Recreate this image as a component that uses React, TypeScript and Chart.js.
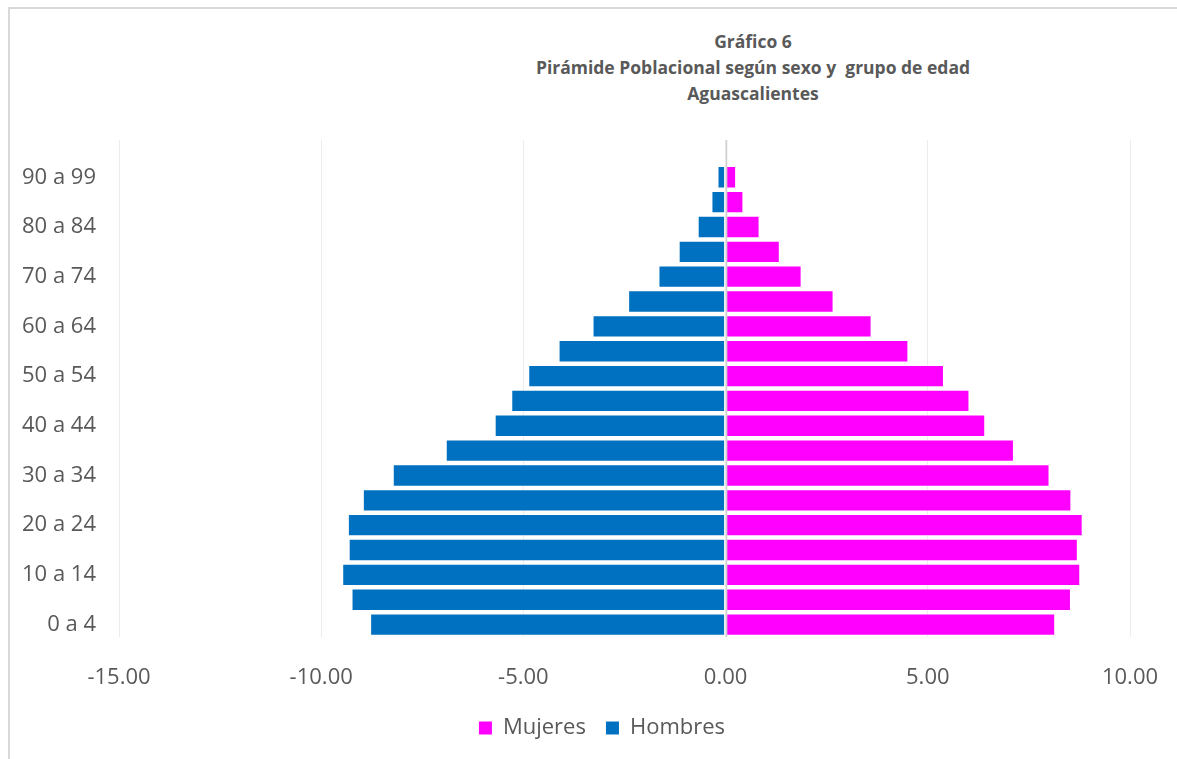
import React, { useEffect, useRef } from "react";
import { Chart, registerables } from "chart.js";

Chart.register(...registerables);

// Age groups, bottom to top; the last slot is an empty row above the oldest group
const ageGroups = [
  "0 a 4", "5 a 9", "10 a 14", "15 a 19", "20 a 24", "25 a 29", "30 a 34",
  "35 a 39", "40 a 44", "45 a 49", "50 a 54", "55 a 59", "60 a 64", "65 a 69",
  "70 a 74", "75 a 79", "80 a 84", "85 a 89", "90 a 99", "",
];

// Percentage of population per age group (men drawn to the left as negatives)
const mujeres = [
  8.15, 8.54, 8.77, 8.71, 8.83, 8.55, 8.01, 7.13, 6.42, 6.03,
  5.4, 4.52, 3.61, 2.67, 1.88, 1.34, 0.84, 0.44, 0.26, null,
];
const hombres = [
  -8.79, -9.25, -9.48, -9.32, -9.34, -8.97, -8.23, -6.92, -5.71, -5.3,
  -4.88, -4.13, -3.29, -2.41, -1.66, -1.16, -0.69, -0.35, -0.2, null,
];

const titleLines = [
  "Gráfico 6",
  "Pirámide Poblacional según sexo y  grupo de edad",
  "Aguascalientes",
];

const xMin = -15;
const xMax = 10;
const xStep = 5;

const TEXT = "#595959";
const FONT = "'Open Sans', 'Liberation Sans', sans-serif";

// Draws the vertical axis line at zero on top of the bars
const zeroLine = {
  id: "zeroLine",
  afterDatasetsDraw(chart: any) {
    const { ctx, chartArea, scales } = chart;
    const x = Math.round(scales.x.getPixelForValue(0)) + 0.5;
    ctx.save();
    ctx.strokeStyle = "#d0d0d0";
    ctx.lineWidth = 1.5;
    ctx.beginPath();
    ctx.moveTo(x, chartArea.top);
    ctx.lineTo(x, chartArea.bottom);
    ctx.stroke();
    ctx.restore();
  },
};

// Moves the legend row a little to the right of the canvas centre
const legendOffset = {
  id: "legendOffset",
  afterLayout(chart: any) {
    const lg = chart.legend;
    if (!lg) return;
    lg.left += 32;
    lg.right += 32;
  },
};

export default function App() {
  const canvasRef = useRef<HTMLCanvasElement>(null);

  useEffect(() => {
    document.body.style.overflow = "hidden";
    const canvas = canvasRef.current;
    if (!canvas) return;
    const defaultLabels = Chart.defaults.plugins.legend.labels.generateLabels;
    const chart = new Chart(canvas, {
      type: "bar",
      data: {
        labels: ageGroups,
        datasets: [
          {
            label: "Mujeres",
            data: mujeres,
            backgroundColor: "#FF00FF",
            borderColor: "rgba(255,255,255,0.45)",
            borderWidth: 1,
            borderSkipped: false,
          },
          {
            label: "Hombres",
            data: hombres,
            backgroundColor: "#0070C0",
            borderColor: "rgba(255,255,255,0.45)",
            borderWidth: 1,
            borderSkipped: false,
          },
        ],
      },
      options: {
        indexAxis: "y",
        responsive: false,
        animation: false,
        datasets: {
          bar: { barPercentage: 0.9, categoryPercentage: 1 },
        },
        layout: { padding: { top: 131, left: 0, right: 47, bottom: 10 } },
        scales: {
          x: {
            stacked: true,
            min: xMin,
            max: xMax,
            border: { display: false },
            grid: {
              color: "#ececec",
              lineWidth: 1,
              drawTicks: true,
              tickLength: 10,
              tickColor: "rgba(0,0,0,0)",
            },
            ticks: {
              stepSize: xStep,
              padding: 18,
              color: TEXT,
              font: { family: FONT, size: 22 },
              callback: (v: any) => Number(v).toFixed(2),
            },
            afterFit: (scale: any) => {
              scale.height = 60;
            },
          },
          y: {
            stacked: true,
            reverse: true,
            border: { display: false },
            grid: { display: false, drawTicks: false },
            ticks: {
              autoSkip: false,
              padding: 23,
              color: TEXT,
              font: { family: FONT, size: 22 },
              callback: function (this: any, value: any, index: number) {
                return index % 2 === 0 ? this.getLabelForValue(value) : "";
              },
            },
            afterFit: (scale: any) => {
              scale.width = 109;
            },
          },
        },
        plugins: {
          title: { display: false },
          tooltip: { enabled: false },
          legend: {
            position: "bottom",
            labels: {
              boxWidth: 13,
              boxHeight: 13,
              padding: 20,
              color: TEXT,
              font: { family: FONT, size: 22 },
              generateLabels: (c: any) =>
                defaultLabels(c).map((l: any) => ({ ...l, lineWidth: 0 })),
            },
          },
        },
      },
      plugins: [zeroLine, legendOffset],
    });
    return () => chart.destroy();
  }, []);

  return (
    <div
      style={{
        position: "absolute",
        left: 8,
        top: 7,
        width: 1169,
        height: 752,
        borderTop: "2px solid #d9d9d9",
        borderLeft: "2px solid #d9d9d9",
        boxSizing: "border-box",
        overflow: "hidden",
        background: "#fff",
      }}
    >
      <div
        style={{
          position: "absolute",
          left: 743 - 400,
          top: 19,
          width: 800,
          textAlign: "center",
          fontFamily: FONT,
          fontWeight: 700,
          fontSize: 17.5,
          lineHeight: "26px",
          color: TEXT,
          whiteSpace: "pre",
        }}
      >
        {titleLines.map((t) => (
          <div key={t}>{t}</div>
        ))}
      </div>
      <canvas
        ref={canvasRef}
        width={1167}
        height={750}
        style={{ position: "absolute", left: 0, top: 0 }}
      />
    </div>
  );
}
